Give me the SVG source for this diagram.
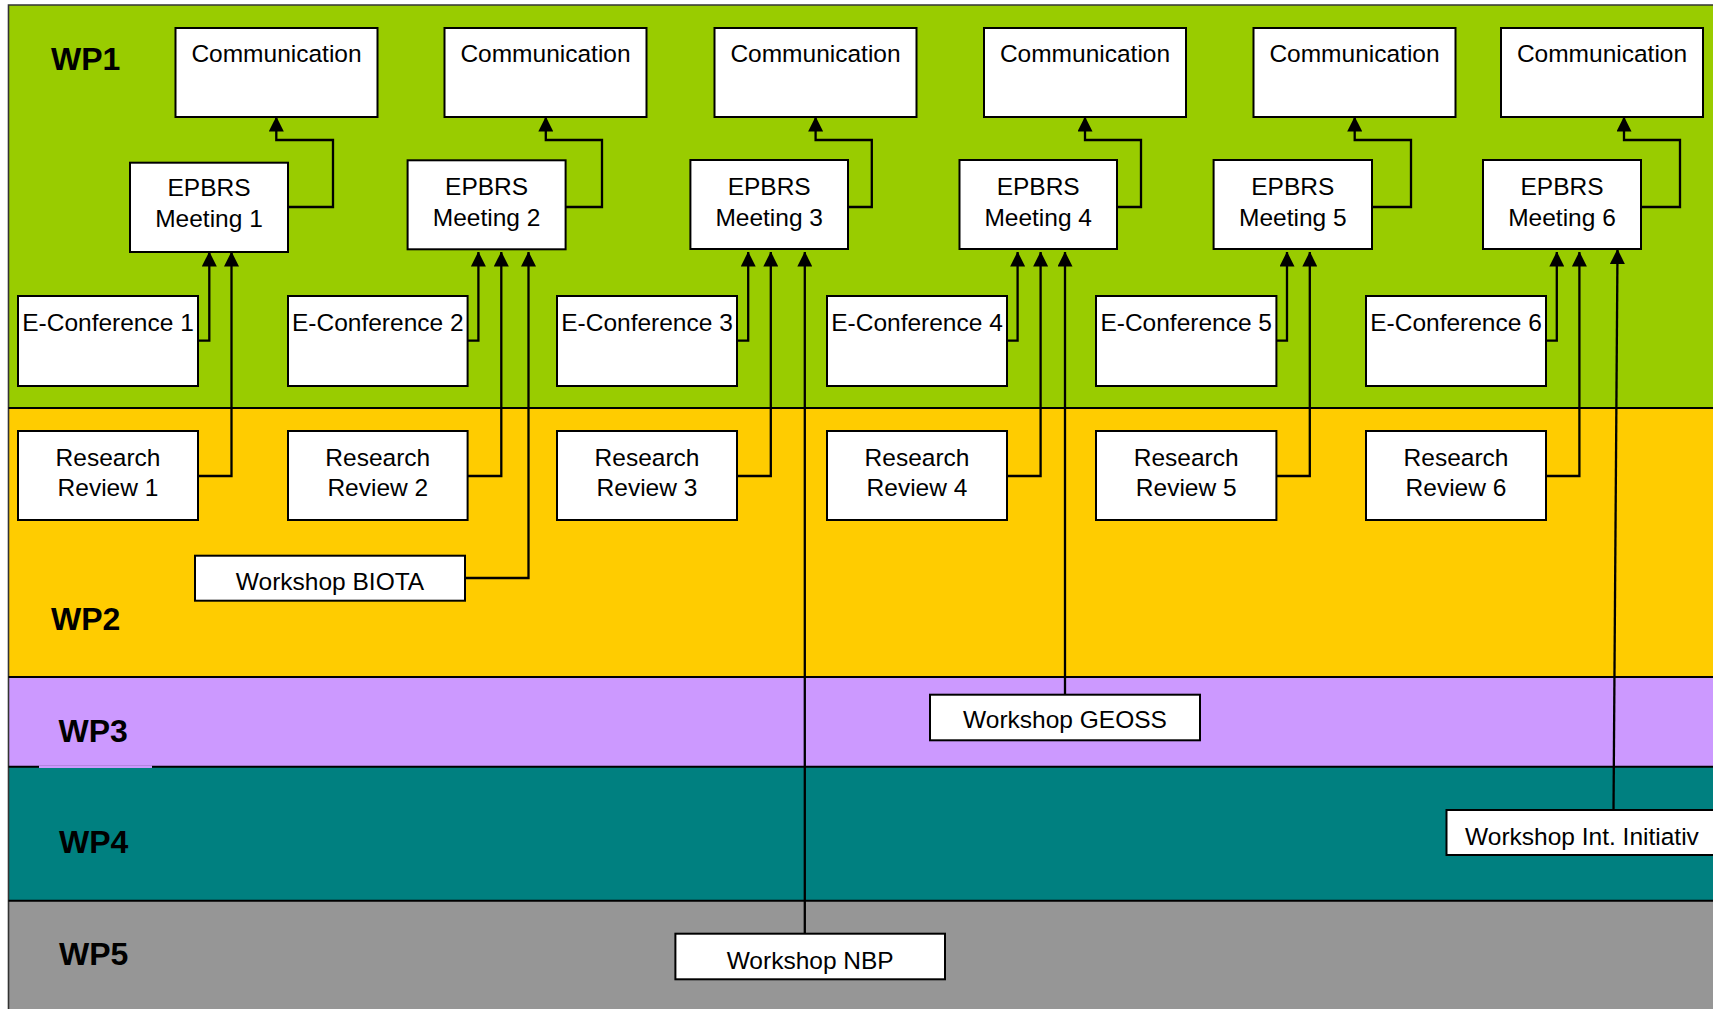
<svg xmlns="http://www.w3.org/2000/svg" width="1713" height="1009" viewBox="0 0 1713 1009">
<style>
.box{fill:#fff;stroke:#000;stroke-width:2}
.t{font-family:"Liberation Sans",Arial,sans-serif;font-size:24.5px;fill:#000;text-anchor:middle}
.wp{font-family:"Liberation Sans",Arial,sans-serif;font-size:32px;font-weight:bold;fill:#000}
.sep{stroke:#000;stroke-width:2}
.c{fill:none;stroke:#000;stroke-width:2.3}
.ca{fill:none;stroke:#000;stroke-width:2.3;marker-end:url(#ah)}
</style>
<defs>
<marker id="ah" markerUnits="userSpaceOnUse" markerWidth="15" markerHeight="15" viewBox="0 0 15 15" refX="14.5" refY="7.5" orient="auto">
<path d="M0,0 L15,7.5 L0,15 Z" fill="#000"/>
</marker>
</defs>
<rect width="1713" height="1009" fill="#fff"/>
<g id="bands">
<rect x="8.5" y="5" width="1710" height="403" fill="#99CC00"/>
<rect x="8.5" y="408" width="1710" height="269" fill="#FFCC00"/>
<rect x="8.5" y="677" width="1710" height="89.7" fill="#CC99FF"/>
<rect x="8.5" y="766.7" width="1710" height="134" fill="#008080"/>
<rect x="8.5" y="900.7" width="1710" height="120" fill="#969696"/>
<path d="M8.5,1015 V5 H1720" fill="none" stroke="#333" stroke-width="1.6"/>
<line class="sep" x1="8.5" y1="408" x2="1713" y2="408"/>
<line class="sep" x1="8.5" y1="677" x2="1713" y2="677"/>
<line class="sep" x1="8.5" y1="766.7" x2="1713" y2="766.7"/>
<line class="sep" x1="8.5" y1="900.7" x2="1713" y2="900.7"/>
<line x1="39" y1="766.7" x2="152" y2="766.7" stroke="#CC99FF" stroke-width="2.4"/>
<text class="wp" x="51" y="70">WP1</text>
<text class="wp" x="51" y="630">WP2</text>
<text class="wp" x="58.5" y="741.7">WP3</text>
<text class="wp" x="59" y="853.3">WP4</text>
<text class="wp" x="59" y="965">WP5</text>
</g>
<g id="connectors">
<path class="ca" d="M288,207 H333 V140 H276.3 V117"/>
<path class="ca" d="M565.6,207 H602 V140 H545.8 V117"/>
<path class="ca" d="M848,207 H871.8 V140 H815.6 V117"/>
<path class="ca" d="M1117,207 H1141 V140 H1085 V117"/>
<path class="ca" d="M1372,207 H1411 V140 H1354.7 V117"/>
<path class="ca" d="M1641,207 H1680 V140 H1624 V117"/>
<path class="ca" d="M198,340.7 H209.3 V252"/>
<path class="ca" d="M467.6,340.7 H478.4 V252"/>
<path class="ca" d="M737,340.7 H748.2 V252"/>
<path class="ca" d="M1007,340.7 H1017.6 V252"/>
<path class="ca" d="M1276.4,340.7 H1287 V252"/>
<path class="ca" d="M1546,340.7 H1556.8 V252"/>
<path class="ca" d="M198,476 H231.5 V252"/>
<path class="ca" d="M467.6,476 H501.3 V252"/>
<path class="ca" d="M737,476 H770.8 V252"/>
<path class="ca" d="M1007,476 H1040.6 V252"/>
<path class="ca" d="M1276.4,476 H1309.8 V252"/>
<path class="ca" d="M1546,476 H1579.4 V252"/>
<path class="ca" d="M465,578 H528.5 V252"/>
<path class="ca" d="M804.8,933.7 V252"/>
<path class="ca" d="M1065,694.7 V252"/>
<path class="ca" d="M1613.5,810 L1617.5,249.5"/>
</g>
<g id="comm1"><rect class="box" x="175.5" y="28" width="202" height="89"/><text class="t" x="276.5" y="62">Communication</text></g>
<g id="comm2"><rect class="box" x="444.5" y="28" width="202" height="89"/><text class="t" x="545.5" y="62">Communication</text></g>
<g id="comm3"><rect class="box" x="714.5" y="28" width="202" height="89"/><text class="t" x="815.5" y="62">Communication</text></g>
<g id="comm4"><rect class="box" x="984" y="28" width="202" height="89"/><text class="t" x="1085" y="62">Communication</text></g>
<g id="comm5"><rect class="box" x="1253.5" y="28" width="202" height="89"/><text class="t" x="1354.5" y="62">Communication</text></g>
<g id="comm6"><rect class="box" x="1501" y="28" width="202" height="89"/><text class="t" x="1602" y="62">Communication</text></g>
<g id="meeting1"><rect class="box" x="130" y="162.7" width="158" height="89.3"/><text class="t" x="209" y="196"><tspan x="209">EPBRS</tspan><tspan x="209" dy="31">Meeting 1</tspan></text></g>
<g id="meeting2"><rect class="box" x="407.6" y="160.3" width="158" height="89"/><text class="t" x="486.6" y="195"><tspan x="486.6">EPBRS</tspan><tspan x="486.6" dy="31">Meeting 2</tspan></text></g>
<g id="meeting3"><rect class="box" x="690.4" y="160" width="157.6" height="89"/><text class="t" x="769.2" y="195"><tspan x="769.2">EPBRS</tspan><tspan x="769.2" dy="31">Meeting 3</tspan></text></g>
<g id="meeting4"><rect class="box" x="959.5" y="160" width="157.5" height="89"/><text class="t" x="1038.2" y="195"><tspan x="1038.2">EPBRS</tspan><tspan x="1038.2" dy="31">Meeting 4</tspan></text></g>
<g id="meeting5"><rect class="box" x="1213.6" y="160" width="158.4" height="89"/><text class="t" x="1292.8" y="195"><tspan x="1292.8">EPBRS</tspan><tspan x="1292.8" dy="31">Meeting 5</tspan></text></g>
<g id="meeting6"><rect class="box" x="1483" y="160" width="158" height="89"/><text class="t" x="1562" y="195"><tspan x="1562">EPBRS</tspan><tspan x="1562" dy="31">Meeting 6</tspan></text></g>
<g id="econf1"><rect class="box" x="18" y="296" width="180" height="90"/><text class="t" x="108" y="330.7">E-Conference 1</text></g>
<g id="econf2"><rect class="box" x="288" y="296" width="179.6" height="90"/><text class="t" x="377.8" y="330.7">E-Conference 2</text></g>
<g id="econf3"><rect class="box" x="557" y="296" width="180" height="90"/><text class="t" x="647" y="330.7">E-Conference 3</text></g>
<g id="econf4"><rect class="box" x="827" y="296" width="180" height="90"/><text class="t" x="917" y="330.7">E-Conference 4</text></g>
<g id="econf5"><rect class="box" x="1096" y="296" width="180.4" height="90"/><text class="t" x="1186.2" y="330.7">E-Conference 5</text></g>
<g id="econf6"><rect class="box" x="1366" y="296" width="180" height="90"/><text class="t" x="1456" y="330.7">E-Conference 6</text></g>
<g id="review1"><rect class="box" x="18" y="431" width="180" height="89"/><text class="t" x="108" y="465.7"><tspan x="108">Research</tspan><tspan x="108" dy="30.5">Review 1</tspan></text></g>
<g id="review2"><rect class="box" x="288" y="431" width="179.6" height="89"/><text class="t" x="377.8" y="465.7"><tspan x="377.8">Research</tspan><tspan x="377.8" dy="30.5">Review 2</tspan></text></g>
<g id="review3"><rect class="box" x="557" y="431" width="180" height="89"/><text class="t" x="647" y="465.7"><tspan x="647">Research</tspan><tspan x="647" dy="30.5">Review 3</tspan></text></g>
<g id="review4"><rect class="box" x="827" y="431" width="180" height="89"/><text class="t" x="917" y="465.7"><tspan x="917">Research</tspan><tspan x="917" dy="30.5">Review 4</tspan></text></g>
<g id="review5"><rect class="box" x="1096" y="431" width="180.4" height="89"/><text class="t" x="1186.2" y="465.7"><tspan x="1186.2">Research</tspan><tspan x="1186.2" dy="30.5">Review 5</tspan></text></g>
<g id="review6"><rect class="box" x="1366" y="431" width="180" height="89"/><text class="t" x="1456" y="465.7"><tspan x="1456">Research</tspan><tspan x="1456" dy="30.5">Review 6</tspan></text></g>
<g id="ws-biota"><rect class="box" x="195" y="555.7" width="270" height="45"/><text class="t" x="330" y="590">Workshop BIOTA</text></g>
<g id="ws-geoss"><rect class="box" x="930" y="694.7" width="270" height="45.6"/><text class="t" x="1065" y="728">Workshop GEOSS</text></g>
<g id="ws-int"><rect class="box" x="1446.5" y="810" width="272" height="45"/><text class="t" x="1582" y="845">Workshop Int. Initiativ</text></g>
<g id="ws-nbp"><rect class="box" x="675.4" y="933.7" width="269.6" height="45.6"/><text class="t" x="810.2" y="969">Workshop NBP</text></g>
</svg>
